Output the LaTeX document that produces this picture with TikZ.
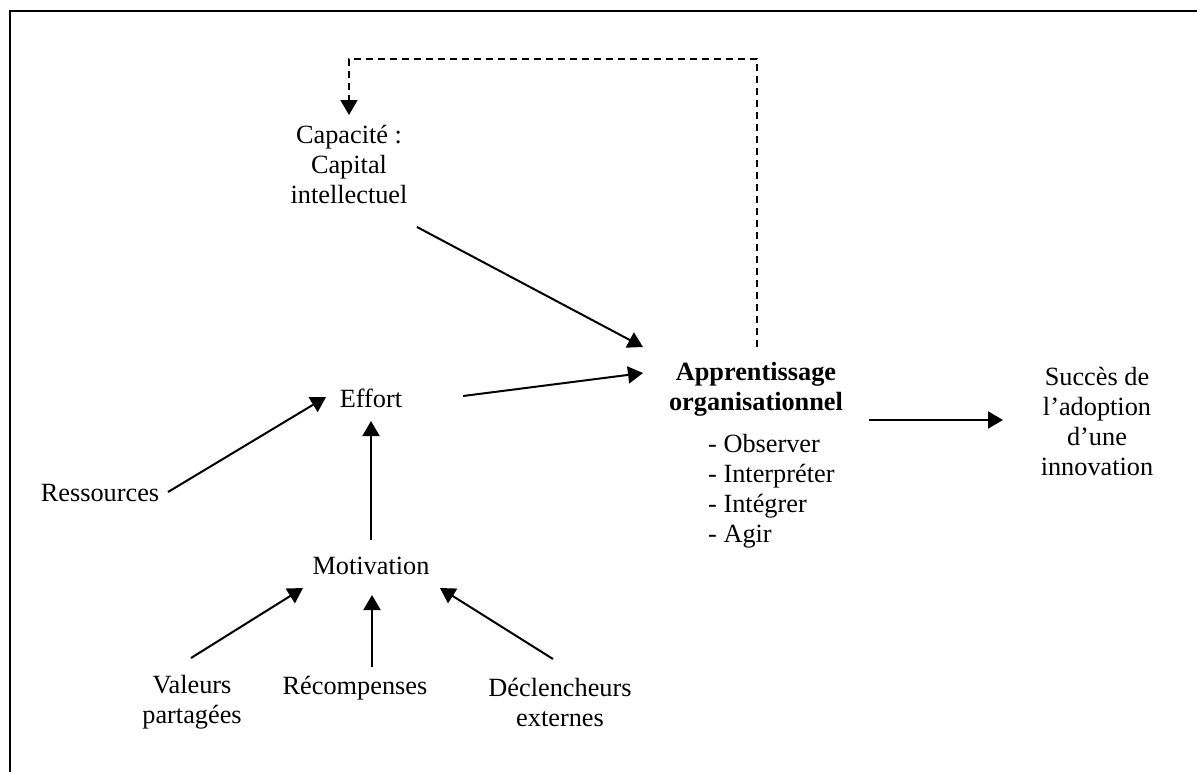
\documentclass[tikz,border=0pt]{standalone}
\usepackage{fontspec}
\setmainfont{Liberation Serif}
\usetikzlibrary{arrows.meta,calc}
\begin{document}
\begin{tikzpicture}[x=1pt,y=-1pt,
  lbl/.style={inner sep=0pt,align=center,font=\fontsize{26.3}{30}\selectfont},
  lst/.style={inner sep=0pt,align=left,font=\fontsize{26.3}{30}\selectfont},
  conn/.style={line width=2pt,-{Triangle[length=15pt,width=17pt]}},
  fb/.style={line width=1.6pt,dash pattern=on 7pt off 5pt,-{Triangle[length=15pt,width=17pt]}},
  frame/.style={line width=2.5pt}]
\useasboundingbox (0,0) rectangle (1197,772);
\draw[frame] (10,772) -- (10,11) -- (1197,11);

\node[lbl] (cap) at (349,164) {Capacité :\\Capital\\intellectuel};
\node[lbl] (app) at (756,389) {\bfseries Apprentissage\\\bfseries organisationnel};
\node[lst,anchor=west] (applist) at (708,491) {- Observer\\- Interpréter\\- Intégrer\\- Agir};
\node[lbl] (suc) at (1097,421) {Succès de\\l’adoption\\d’une\\innovation};
\node[lbl] (eff) at (371,398) {Effort};
\node[lbl] (res) at (100,493) {Ressources};
\node[lbl] (mot) at (371,566) {Motivation};
\node[lbl] (val) at (192,702) {Valeurs\\partagées};
\node[lbl] (rec) at (355,688) {Récompenses};
\node[lbl] (dec) at (560,702) {Déclencheurs\\externes};

\draw[conn] ($(cap)+(68,63)$) -- ($(app)+(-113,-42)$);
\draw[conn] ($(eff)+(92,-2)$) -- ($(app)+(-113,-16)$);
\draw[conn] ($(app)+(113,31)$) -- ($(suc)+(-94,-1)$);
\draw[conn] ($(res)+(68,-1)$) -- ($(eff)+(-45,-1)$);
\draw[conn] ($(mot)+(0,-26)$) -- ($(eff)+(0,23)$);
\draw[conn] ($(val)+(-1,-44)$) -- ($(mot)+(-68,22)$);
\draw[conn] ($(rec)+(17,-21)$) -- ($(mot)+(1,29)$);
\draw[conn] ($(dec)+(-7,-43)$) -- ($(mot)+(69,22)$);
\draw[fb] ($(app)+(1,-42)$) -- ++(0,-288) -| ($(cap)+(0,-49)$);
\end{tikzpicture}
\end{document}
